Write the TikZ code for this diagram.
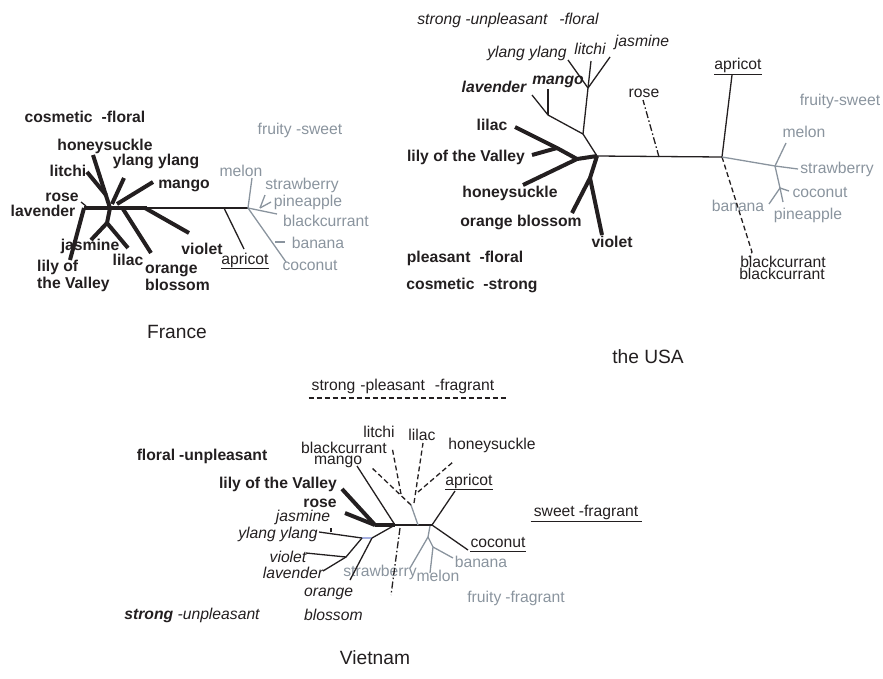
\documentclass[tikz,border=0pt]{standalone}
\usepackage{fontspec}
\setmainfont{Liberation Sans}
\usepackage{xcolor}
\definecolor{ink}{RGB}{35,31,32}
\definecolor{fruitgray}{RGB}{138,148,158}
\definecolor{pathblue}{RGB}{165,175,225}
\newcommand{\labfont}{\fontsize{15.7}{17}\selectfont}
\newcommand{\ttlfont}{\fontsize{19.2}{22}\selectfont}

\begin{document}
\begin{tikzpicture}[
    x=1pt, y=-1pt,
    lab/.style={font=\labfont, text=ink, inner sep=0pt, text height=11.3pt, text depth=3.3pt},
    labb/.style={lab, font=\labfont\bfseries},
    labi/.style={lab, font=\labfont\itshape},
    labbi/.style={lab, font=\labfont\bfseries\itshape},
    labg/.style={lab, text=fruitgray},
    two/.style={align=left, anchor=north west, text height={}, text depth={}},
    ttl/.style={font=\ttlfont, text=ink, inner sep=0pt},
    br/.style={ink, line width=1.3pt},
    brk/.style={ink, line width=4pt},
    brg/.style={fruitgray, line width=1.3pt},
    brd/.style={ink, line width=1.3pt, dash pattern=on 5pt off 3pt},
    brdd/.style={ink, line width=1.3pt, dash pattern=on 7pt off 2.5pt on 1.5pt off 2.5pt},
    uline/.style={ink, line width=1pt},
]
\useasboundingbox (0,0) rectangle (883,678);

\coordinate (fLav) at (84,208);
\coordinate (fHub) at (110,208);
\coordinate (fThk) at (147,208);
\coordinate (fApr0) at (224,208);
\coordinate (fGry) at (248,208);
\coordinate (fRose0) at (86,206);
\coordinate (fRose) at (81,202);
\coordinate (fLily) at (70,260);
\coordinate (fHon) at (93,155);
\coordinate (fLit0) at (106,195);
\coordinate (fLit) at (87,172);
\coordinate (fYl0) at (112,204);
\coordinate (fYl) at (124,178);
\coordinate (fMan0) at (117,204);
\coordinate (fMan) at (153,182);
\coordinate (fJas0) at (107,223);
\coordinate (fJas) at (91,240);
\coordinate (fLil) at (128,248);
\coordinate (fOra0) at (123,209);
\coordinate (fOra) at (151,253);
\coordinate (fVio0) at (145,208);
\coordinate (fVio) at (189,233);
\coordinate (fApr) at (244,249);
\coordinate (fMel) at (252,178);
\coordinate (fStr0) at (260,208);
\coordinate (fStr) at (265,195);
\coordinate (fPin) at (271,202);
\coordinate (fBlk) at (277,214);
\coordinate (fCoc) at (286,262);
\coordinate (fBan0) at (275,242);
\coordinate (fBan) at (285,242);

\node[labb] (fCosFlo) at (85,118) {cosmetic\hspace{9pt}-floral};
\node[labg] (fFruSw) at (300,130) {fruity -sweet};
\node[labb] (fHonL) at (105,146) {honeysuckle};
\node[labb] (fYlL) at (156,161) {ylang ylang};
\node[labb] (fLitL) at (68,172) {litchi};
\node[labb] (fManL) at (184,184) {mango};
\node[labg] (fMelL) at (241,172) {melon};
\node[labg] (fStrL) at (302,185) {strawberry};
\node[labg] (fPinL) at (308,202) {pineapple};
\node[labg] (fBlkL) at (326,222) {blackcurrant};
\node[labg] (fBanL) at (318,244) {banana};
\node[labg] (fCocL) at (310,266) {coconut};
\node[labb] (fRoseL) at (62,197) {rose};
\node[labb] (fLavL) at (43,212) {lavender};
\node[labb] (fJasL) at (90,246) {jasmine};
\node[labb] (fLilL) at (128,261) {lilac};
\node[labb, two] (fLilyL) at (37,260) {lily of\\the Valley};
\node[labb, two] (fOraL) at (145,265) {orange\\blossom};
\node[labb] (fVioL) at (202,250) {violet};
\node[lab] (fAprL) at (245,260) {apricot};
\node[ttl] (fTitle) at (177,332) {France};

\draw[brk] (fLav) -- (fThk);
\draw[br] (fThk) -- (fGry);
\draw[br] (fRose0) -- (fRose);
\draw[brk] (fLav) -- (fLily);
\draw[brk] (fHub) -- (fHon);
\draw[brk] (fLit0) -- (fLit);
\draw[brk] (fYl0) -- (fYl);
\draw[brk] (fMan0) -- (fMan);
\draw[brk] (fHub) -- (fJas0) -- (fJas);
\draw[brk] (fJas0) -- (fLil);
\draw[brk] (fOra0) -- (fOra);
\draw[brk] (fVio0) -- (fVio);
\draw[br] (fApr0) -- (fApr);
\draw[uline] ([yshift=-1pt]fAprL.south west) -- ([yshift=-1pt]fAprL.south east);
\draw[brg] (fGry) -- (fMel);
\draw[brg] (fGry) -- (fBlk);
\draw[brg] (fStr0) -- (fStr);
\draw[brg] (fStr0) -- (fPin);
\draw[brg] (fGry) -- (fCoc);
\draw[brg] (fBan0) -- (fBan);

\coordinate (uHub) at (597,156);
\coordinate (uRose0) at (659,157);
\coordinate (uRose) at (643,100);
\coordinate (uAprJ) at (722,157);
\coordinate (uApr) at (732,75);
\coordinate (uBlk) at (752,252);
\coordinate (uBlkH) at (749,257);
\coordinate (uStr0) at (775,166);
\coordinate (uStr) at (798,169);
\coordinate (uMel) at (786,143);
\coordinate (uFk) at (780,188);
\coordinate (uBan) at (769,204);
\coordinate (uPin) at (783,202);
\coordinate (uCoc) at (789,191);
\coordinate (uB) at (583,134);
\coordinate (uC) at (588,88);
\coordinate (uYl) at (568,60);
\coordinate (uLit) at (591,61);
\coordinate (uJas) at (610,57);
\coordinate (uD) at (548,115);
\coordinate (uLav) at (532,95);
\coordinate (uMan) at (548,89);
\coordinate (uE) at (577,159);
\coordinate (uLil0) at (557,148);
\coordinate (uLil) at (515,127);
\coordinate (uLily) at (532,155);
\coordinate (uHon) at (523,185);
\coordinate (uG) at (590,178);
\coordinate (uOra) at (572,213);
\coordinate (uVio) at (602,235);

\node[labi] (uSUF) at (508,20) {strong -unpleasant\hspace{12pt}-floral};
\node[labi] (uYlL) at (527,53) {ylang ylang};
\node[labi] (uLitL) at (590,50) {litchi};
\node[labi] (uJasL) at (642,42) {jasmine};
\node[labbi] (uLavL) at (494,88) {lavender};
\node[labbi] (uManL) at (558,80) {mango};
\node[labb] (uLilL) at (492,126) {lilac};
\node[labb] (uLilyL) at (466,157) {lily of the Valley};
\node[labb] (uHonL) at (510,193) {honeysuckle};
\node[labb] (uOraL) at (521,222) {orange blossom};
\node[labb] (uPF) at (465,258) {pleasant\hspace{9pt}-floral};
\node[labb] (uCS) at (472,285) {cosmetic\hspace{9pt}-strong};
\node[labb] (uVioL) at (612,243) {violet};
\node[lab] (uRoseL) at (644,93) {rose};
\node[lab] (uAprL) at (738,65) {apricot};
\node[labg] (uFS) at (840,101) {fruity-sweet};
\node[labg] (uMelL) at (804,133) {melon};
\node[labg] (uStrL) at (837,169) {strawberry};
\node[labg] (uCocL) at (820,193) {coconut};
\node[labg] (uBanL) at (738,207) {banana};
\node[labg] (uPinL) at (808,215) {pineapple};
\node[lab] (uBlkL) at (783,263) {blackcurrant};
\node[lab] (uBlkL2) at (782,275) {blackcurrant};
\node[ttl] (uTitle) at (648,357) {the USA};

\draw[br] (uHub) -- (uAprJ);
\draw[brdd] (uRose0) -- (uRose);
\draw[br] (uAprJ) -- (uApr);
\draw[uline] ([yshift=-1.5pt]uAprL.south west) -- ([yshift=-1.5pt]uAprL.south east);
\draw[brd] (uAprJ) -- (uBlk) -- (uBlkH);
\draw[brg] (uAprJ) -- (uStr0) -- (uStr);
\draw[brg] (uStr0) -- (uMel);
\draw[brg] (uStr0) -- (uFk) -- (uBan);
\draw[brg] (uFk) -- (uPin);
\draw[brg] (uFk) -- (uCoc);
\draw[br] (uHub) -- (uB) -- (uC) -- (uYl);
\draw[br] (uC) -- (uLit);
\draw[br] (uC) -- (uJas);
\draw[br] (uB) -- (uD) -- (uLav);
\draw[br] (uD) -- (uMan);
\draw[brk] (uHub) -- (uE) -- (uLil0) -- (uLil);
\draw[brk] (uLil0) -- (uLily);
\draw[brk] (uE) -- (uHon);
\draw[brk] (uHub) -- (uG) -- (uOra);
\draw[brk] (uG) -- (uVio);

\coordinate (vA) at (375,525);
\coordinate (vB) at (395,525);
\coordinate (vC) at (432,525);
\coordinate (vLily) at (342,489);
\coordinate (vRose) at (345,513);
\coordinate (vMan) at (357,466);
\coordinate (vD) at (372,538);
\coordinate (vE) at (362,538);
\coordinate (vYl) at (319,532);
\coordinate (vYlT) at (331,532);
\coordinate (vYlT2) at (331,528);
\coordinate (vF) at (346,557);
\coordinate (vVio) at (306,553);
\coordinate (vLav) at (323,571);
\coordinate (vOra) at (350,580);
\coordinate (vDd0) at (400,528);
\coordinate (vDd) at (391,595);
\coordinate (vApr) at (455,491);
\coordinate (vCoc) at (468,550);
\coordinate (vG0) at (430,526);
\coordinate (vG) at (428,537);
\coordinate (vStr) at (410,568);
\coordinate (vH) at (433,547);
\coordinate (vMel) at (430,573);
\coordinate (vBan) at (453,558);
\coordinate (vI) at (418,525);
\coordinate (vJ) at (411,505);
\coordinate (vBlk) at (371,467);
\coordinate (vLit0) at (401,494);
\coordinate (vLit) at (392,447);
\coordinate (vLil0) at (414,503);
\coordinate (vLil) at (423,443);
\coordinate (vHon0) at (418,492);
\coordinate (vHon) at (453,462);

\node[lab] (vSPF) at (403,386) {strong\hspace{5pt}-pleasant\hspace{10pt}-fragrant};
\node[labb] (vFU) at (202,456) {floral\hspace{4pt}-unpleasant};
\node[labb] (vLilyL) at (278,484) {lily of the Valley};
\node[labb] (vRoseL) at (320,503) {rose};
\node[labi] (vJasL) at (303,517) {jasmine};
\node[labi] (vYlL) at (278,534) {ylang ylang};
\node[labi] (vVioL) at (288,558) {violet};
\node[labi] (vLavL) at (293,574) {lavender};
\node[labi, two] (vOraL) at (304,588) {orange\\[7pt]blossom};
\node[labi] (vSU) at (192,615) {\textbf{strong} -unpleasant};
\node[lab] (vLitL) at (379,433) {litchi};
\node[lab] (vBlkL) at (344,449) {blackcurrant};
\node[lab] (vManL) at (338,460) {mango};
\node[lab] (vLilL) at (422,436) {lilac};
\node[lab] (vHonL) at (492,445) {honeysuckle};
\node[lab] (vAprL) at (469,481) {apricot};
\node[lab] (vSF) at (586,512) {sweet\hspace{4pt}-fragrant};
\node[lab] (vCocL) at (498,543) {coconut};
\node[labg] (vBanL) at (481,563) {banana};
\node[labg] (vMelL) at (438,577) {melon};
\node[labg] (vStrL) at (380,572) {strawberry};
\node[labg] (vFF) at (516,598) {fruity\hspace{4pt}-fragrant};
\node[ttl] (vTitle) at (375,658) {Vietnam};

\draw[brd] ([xshift=-3pt,yshift=-4.5pt]vSPF.south west) -- ([xshift=12pt,yshift=-4.5pt]vSPF.south east);
\draw[uline] ([xshift=-3pt,yshift=-1.5pt]vSF.south west) -- ([xshift=4pt,yshift=-1.5pt]vSF.south east);
\draw[uline] ([yshift=-1pt]vAprL.south west) -- ([yshift=-1pt]vAprL.south east);
\draw[uline] ([yshift=-1pt]vCocL.south west) -- ([yshift=-1pt]vCocL.south east);
\draw[brk] (vA) -- (vB);
\draw[br] (vB) -- (vC);
\draw[brk] (vA) -- (vLily);
\draw[brk] (vA) -- (vRose);
\draw[br] (vB) -- (vMan);
\draw[br] (vB) -- (vD);
\draw[pathblue, line width=1.3pt] (vD) -- (vE);
\draw[br] (vE) -- (vYl);
\draw[br] (vYlT) -- (vYlT2);
\draw[br] (vE) -- (vF) -- (vVio);
\draw[br] (vF) -- (vLav);
\draw[br] (vD) -- (vOra);
\draw[brdd] (vDd0) -- (vDd);
\draw[br] (vC) -- (vApr);
\draw[br] (vC) -- (vCoc);
\draw[brg] (vG0) -- (vG) -- (vStr);
\draw[brg] (vG) -- (vH) -- (vMel);
\draw[brg] (vH) -- (vBan);
\draw[brg] (vI) -- (vJ);
\draw[brd] (vJ) -- (vBlk);
\draw[brd] (vLit0) -- (vLit);
\draw[brd] (vLil0) -- (vLil);
\draw[brd] (vHon0) -- (vHon);

\end{tikzpicture}
\end{document}
